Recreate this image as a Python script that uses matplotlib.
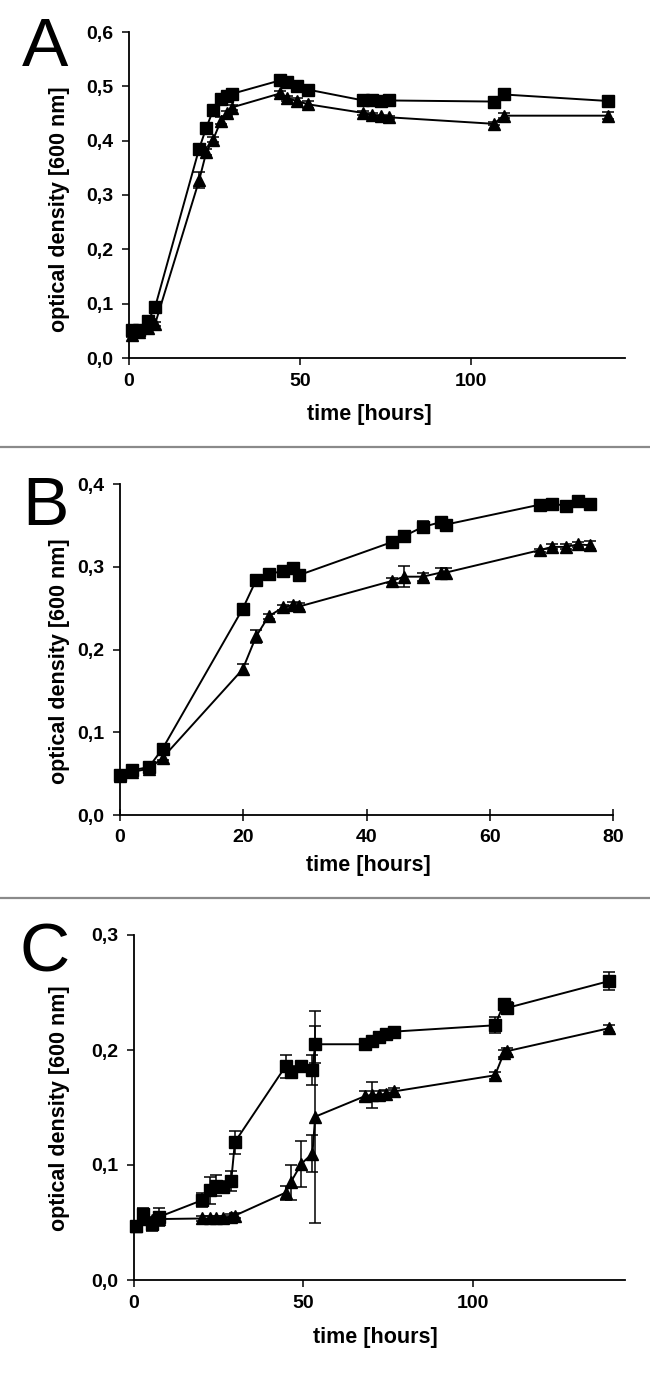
import matplotlib
matplotlib.use("Agg")
import matplotlib.pyplot as plt
from matplotlib.lines import Line2D
import numpy as np

plt.rcParams['font.family'] = ['Liberation Sans', 'DejaVu Sans']

# ---------------- Panel A ----------------
a_time = [1, 3, 5.6, 7.6, 20.5, 22.6, 24.6, 26.9, 28.6, 30, 44.2, 46.2, 49.2, 52.3,
          68.5, 71.1, 73.6, 76.1, 106.6, 109.6, 140.1]
a_sq = [0.051, 0.051, 0.069, 0.093, 0.385, 0.424, 0.456, 0.476, 0.483, 0.486, 0.511, 0.508,
        0.501, 0.494, 0.474, 0.474, 0.473, 0.474, 0.472, 0.485, 0.473]
a_sq_err = [0.004, 0.004, 0.004, 0.004, 0.006, 0.004, 0.005, 0.008, 0.006, 0.004, 0.007, 0.006,
            0.007, 0.008, 0.01, 0.008, 0.009, 0.008, 0.009, 0.006, 0.007]
a_tri = [0.042, 0.048, 0.055, 0.062, 0.327, 0.379, 0.402, 0.437, 0.45, 0.461, 0.487, 0.478,
         0.473, 0.467, 0.451, 0.447, 0.445, 0.443, 0.431, 0.446, 0.446]
a_tri_err = [0.003, 0.003, 0.004, 0.004, 0.015, 0.006, 0.005, 0.006, 0.005, 0.004, 0.005, 0.005,
             0.005, 0.006, 0.004, 0.004, 0.003, 0.003, 0.003, 0.004, 0.006]

# ---------------- Panel B ----------------
b_time = [0, 2, 4.7, 6.9, 19.9, 22.1, 24.1, 26.5, 28.1, 29.1, 44.2, 46.1, 49.1, 52.1, 52.9,
          68.1, 70.1, 72.3, 74.3, 76.2]
b_sq = [0.048, 0.054, 0.058, 0.080, 0.249, 0.284, 0.291, 0.295, 0.298, 0.290, 0.330, 0.337,
        0.348, 0.354, 0.351, 0.375, 0.376, 0.374, 0.379, 0.376]
b_sq_err = [0.003, 0.003, 0.004, 0.004, 0.003, 0.003, 0.003, 0.003, 0.003, 0.004, 0.005, 0.003,
            0.007, 0.004, 0.003, 0.005, 0.004, 0.003, 0.003, 0.004]
b_tri = [0.047, 0.052, 0.056, 0.069, 0.176, 0.216, 0.240, 0.251, 0.254, 0.252, 0.283, 0.288,
         0.288, 0.293, 0.293, 0.320, 0.324, 0.324, 0.327, 0.326]
b_tri_err = [0.003, 0.003, 0.003, 0.003, 0.007, 0.008, 0.003, 0.003, 0.004, 0.004, 0.003, 0.013,
             0.005, 0.006, 0.006, 0.002, 0.003, 0.003, 0.003, 0.005]

# ---------------- Panel C ----------------
c_time = [0.5, 2.6, 5.2, 7.5, 20.2, 22.3, 24.3, 26.4, 28.7, 29.8, 44.8, 46.3, 49.4, 52.7, 53.5,
          68.3, 70.3, 72.4, 74.4, 76.8, 106.6, 109.2, 110.2, 140.4]
c_sq = [0.047, 0.057, 0.0485, 0.055, 0.0695, 0.078, 0.082, 0.081, 0.086, 0.120, 0.186, 0.181,
        0.186, 0.183, 0.205, 0.205, 0.208, 0.211, 0.214, 0.216, 0.2215, 0.240, 0.2366, 0.260]
c_sq_err = [0.003, 0.006, 0.006, 0.008, 0.006, 0.012, 0.009, 0.005, 0.009, 0.010, 0.010, 0.005,
            0.003, 0.013, 0.016, 0.002, 0.002, 0.002, 0.002, 0.002, 0.007, 0.004, 0.005, 0.008]
c_tri = [0.047, 0.053, 0.052, 0.053, 0.0535, 0.0535, 0.054, 0.054, 0.055, 0.056, 0.076, 0.085,
         0.101, 0.110, 0.142, 0.160, 0.161, 0.161, 0.162, 0.164, 0.178, 0.197, 0.199, 0.219]
c_tri_err = [0.002, 0.002, 0.002, 0.002, 0.002, 0.002, 0.002, 0.002, 0.002, 0.002, 0.006, 0.015,
             0.020, 0.016, 0.092, 0.004, 0.011, 0.003, 0.003, 0.003, 0.003, 0.003, 0.003, 0.003]

# ---------------- Axis tick labels ----------------
a_yticks = [0.0, 0.1, 0.2, 0.3, 0.4, 0.5, 0.6]
a_ylabels = ["0,0", "0,1", "0,2", "0,3", "0,4", "0,5", "0,6"]
a_xticks = [0, 50, 100]
b_yticks = [0.0, 0.1, 0.2, 0.3, 0.4]
b_ylabels = ["0,0", "0,1", "0,2", "0,3", "0,4"]
b_xticks = [0, 20, 40, 60, 80]
c_yticks = [0.0, 0.1, 0.2, 0.3]
c_ylabels = ["0,0", "0,1", "0,2", "0,3"]
c_xticks = [0, 50, 100]

xlabel_text = "time [hours]"
ylabel_text = "optical density [600 nm]"
panel_letters = ["A", "B", "C"]

W, H = 650, 1375
fig = plt.figure(figsize=(W / 100, H / 100), dpi=100)

def px_axes(left, right, top, bottom):
    return fig.add_axes([left / W, 1 - bottom / H, (right - left) / W, (bottom - top) / H])

FS_TICK = 14
FS_LAB = 15.5

def draw_panel(ax, t, sq, sqe, tri, trie, xlim, ylim, yticks, ylabels, xticks, xtickdir):
    kw = dict(color='black', lw=1.4, ecolor='black', elinewidth=1.1, capsize=4, capthick=1.1,
              clip_on=False)
    ax.errorbar(t, sq, yerr=sqe, marker='s', ms=8, **kw)
    ax.errorbar(t, tri, yerr=trie, marker='^', ms=8.5, **kw)
    ax.set_xlim(*xlim)
    ax.set_ylim(*ylim)
    ax.set_yticks(yticks)
    ax.set_yticklabels(ylabels)
    ax.set_xticks(xticks)
    ax.set_xticklabels([str(x) for x in xticks])
    for s in ['top', 'right']:
        ax.spines[s].set_visible(False)
    for s in ['left', 'bottom']:
        ax.spines[s].set_linewidth(1.3)
    ax.tick_params(axis='y', direction='out', length=5, width=1.1, pad=6)
    ax.tick_params(axis='x', direction=xtickdir, length=5 if xtickdir == 'out' else 8,
                   width=1.1, pad=6)
    for lab in ax.get_xticklabels() + ax.get_yticklabels():
        lab.set_fontweight('bold')
        lab.set_fontsize(FS_TICK)

axA = px_axes(129, 625, 32, 358)
draw_panel(axA, a_time, a_sq, a_sq_err, a_tri, a_tri_err, (0, 145), (0, 0.6),
           a_yticks, a_ylabels, a_xticks, 'out')
axB = px_axes(120, 613, 484, 815)
draw_panel(axB, b_time, b_sq, b_sq_err, b_tri, b_tri_err, (0, 80), (0, 0.4),
           b_yticks, b_ylabels, b_xticks, 'inout')
axC = px_axes(134, 625, 935, 1280)
draw_panel(axC, c_time, c_sq, c_sq_err, c_tri, c_tri_err, (0, 145), (0, 0.3),
           c_yticks, c_ylabels, c_xticks, 'out')

def ftext(x, y, s, **kw):
    fig.text(x / W, 1 - y / H, s, **kw)

# x labels
for (xc, yc) in [(369, 415), (368, 866), (375, 1338)]:
    ftext(xc, yc, xlabel_text, ha='center', va='center', fontsize=FS_LAB, fontweight='bold')
# y labels
for (xc, yc) in [(60, 209), (60, 661), (60, 1108)]:
    ftext(xc, yc, ylabel_text, ha='center', va='center', rotation=90, fontsize=FS_LAB,
          fontweight='bold')
# panel letters
for (xc, yc), letter in zip([(45, 48), (45, 507), (45, 953)], panel_letters):
    ftext(xc, yc, letter, ha='center', va='center', fontsize=50)

# separators
for ys in [447, 898]:
    fig.add_artist(Line2D([0, 1], [1 - ys / H, 1 - ys / H], color='#8a8a8a', lw=1.6,
                          transform=fig.transFigure))

fig.savefig("out.png", dpi=100, facecolor='white')
